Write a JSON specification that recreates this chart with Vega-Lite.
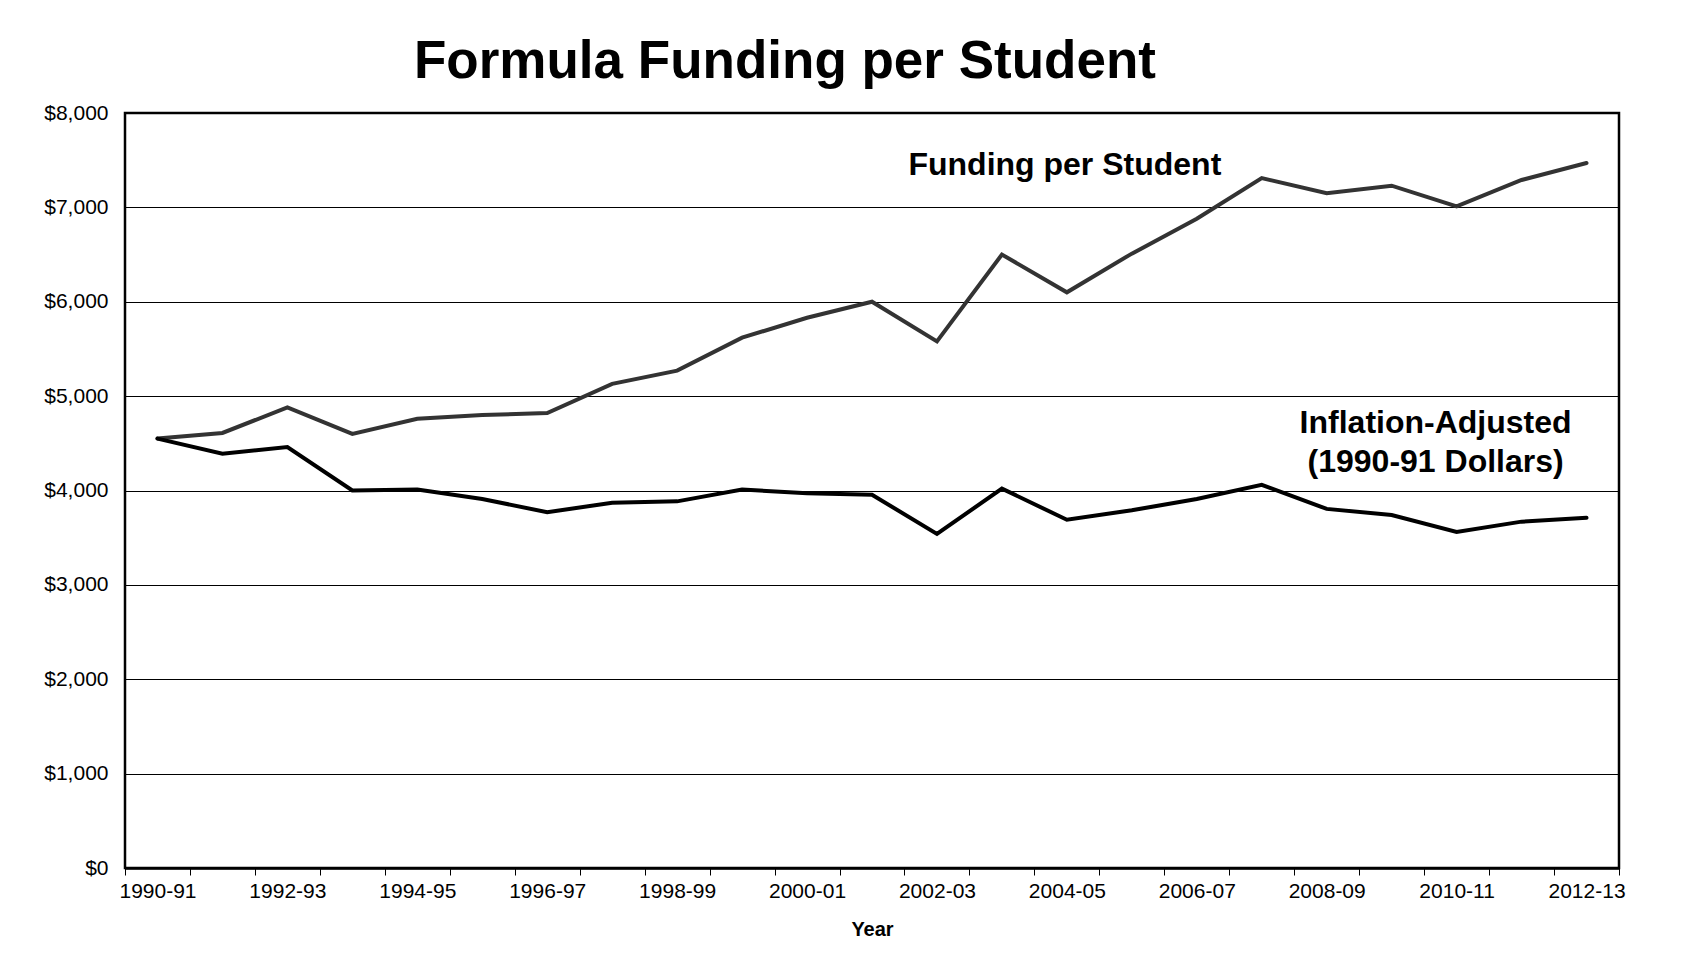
{
  "$schema": "https://vega.github.io/schema/vega-lite/v6.json",
  "autosize": {"type": "none"},
  "padding": {"left": 125, "top": 113, "right": 86, "bottom": 94},
  "width": 1494,
  "height": 755,
  "background": "white",
  "config": {
    "font": "Liberation Sans",
    "view": {"stroke": "#000000", "strokeWidth": 2.5}
  },
  "title": {
    "text": "Formula Funding per Student",
    "anchor": "start",
    "frame": "group",
    "dx": 289,
    "dy": 63,
    "offset": 34,
    "baseline": "alphabetic",
    "fontSize": 53,
    "fontWeight": "bold",
    "font": "Liberation Sans",
    "color": "#000000"
  },
  "datasets": {
    "series": [
      {"year": "1990-91", "series": "Funding per Student", "value": 4550},
      {"year": "1991-92", "series": "Funding per Student", "value": 4610},
      {"year": "1992-93", "series": "Funding per Student", "value": 4880},
      {"year": "1993-94", "series": "Funding per Student", "value": 4600},
      {"year": "1994-95", "series": "Funding per Student", "value": 4760},
      {"year": "1995-96", "series": "Funding per Student", "value": 4800},
      {"year": "1996-97", "series": "Funding per Student", "value": 4820},
      {"year": "1997-98", "series": "Funding per Student", "value": 5130},
      {"year": "1998-99", "series": "Funding per Student", "value": 5270},
      {"year": "1999-00", "series": "Funding per Student", "value": 5620},
      {"year": "2000-01", "series": "Funding per Student", "value": 5830},
      {"year": "2001-02", "series": "Funding per Student", "value": 6000},
      {"year": "2002-03", "series": "Funding per Student", "value": 5580},
      {"year": "2003-04", "series": "Funding per Student", "value": 6500},
      {"year": "2004-05", "series": "Funding per Student", "value": 6100},
      {"year": "2005-06", "series": "Funding per Student", "value": 6510},
      {"year": "2006-07", "series": "Funding per Student", "value": 6880},
      {"year": "2007-08", "series": "Funding per Student", "value": 7310},
      {"year": "2008-09", "series": "Funding per Student", "value": 7150},
      {"year": "2009-10", "series": "Funding per Student", "value": 7230},
      {"year": "2010-11", "series": "Funding per Student", "value": 7010},
      {"year": "2011-12", "series": "Funding per Student", "value": 7290},
      {"year": "2012-13", "series": "Funding per Student", "value": 7470},
      {"year": "1990-91", "series": "Inflation-Adjusted", "value": 4550},
      {"year": "1991-92", "series": "Inflation-Adjusted", "value": 4390},
      {"year": "1992-93", "series": "Inflation-Adjusted", "value": 4460},
      {"year": "1993-94", "series": "Inflation-Adjusted", "value": 4000},
      {"year": "1994-95", "series": "Inflation-Adjusted", "value": 4010},
      {"year": "1995-96", "series": "Inflation-Adjusted", "value": 3910},
      {"year": "1996-97", "series": "Inflation-Adjusted", "value": 3770},
      {"year": "1997-98", "series": "Inflation-Adjusted", "value": 3870},
      {"year": "1998-99", "series": "Inflation-Adjusted", "value": 3885},
      {"year": "1999-00", "series": "Inflation-Adjusted", "value": 4010},
      {"year": "2000-01", "series": "Inflation-Adjusted", "value": 3970},
      {"year": "2001-02", "series": "Inflation-Adjusted", "value": 3955},
      {"year": "2002-03", "series": "Inflation-Adjusted", "value": 3540},
      {"year": "2003-04", "series": "Inflation-Adjusted", "value": 4020},
      {"year": "2004-05", "series": "Inflation-Adjusted", "value": 3690},
      {"year": "2005-06", "series": "Inflation-Adjusted", "value": 3790},
      {"year": "2006-07", "series": "Inflation-Adjusted", "value": 3910},
      {"year": "2007-08", "series": "Inflation-Adjusted", "value": 4060},
      {"year": "2008-09", "series": "Inflation-Adjusted", "value": 3805},
      {"year": "2009-10", "series": "Inflation-Adjusted", "value": 3740},
      {"year": "2010-11", "series": "Inflation-Adjusted", "value": 3560},
      {"year": "2011-12", "series": "Inflation-Adjusted", "value": 3670},
      {"year": "2012-13", "series": "Inflation-Adjusted", "value": 3710}
    ],
    "notes1": [
      {"year": "2004-05", "value": 7450, "label": "Funding per Student"}
    ],
    "notes2": [
      {"year": "2010-11", "value": 4715, "label": "Inflation-Adjusted"},
      {"year": "2010-11", "value": 4302, "label": "(1990-91 Dollars)"}
    ]
  },
  "encoding": {
    "x": {
      "field": "year",
      "type": "ordinal",
      "sort": null,
      "bandPosition": 0.5,
      "scale": {"type": "band", "paddingInner": 0, "paddingOuter": 0},
      "axis": {
        "title": "Year",
        "titleFontSize": 20,
        "titleFontWeight": "bold",
        "titleColor": "#000000",
        "titlePadding": 18,
        "labelAngle": 0,
        "labelFontSize": 21,
        "labelColor": "#000000",
        "labelPadding": 5,
        "labelOverlap": false,
        "labelExpr": "toNumber(substring(datum.value,0,4)) % 2 == 0 ? datum.value : ''",
        "tickBand": "extent",
        "tickSize": 7,
        "tickColor": "#000000",
        "tickWidth": 1,
        "domainColor": "#000000",
        "domainWidth": 2.5,
        "grid": false
      }
    },
    "y": {
      "field": "value",
      "type": "quantitative",
      "scale": {"domain": [0, 8000], "nice": false, "zero": true},
      "axis": {
        "title": null,
        "values": [0, 1000, 2000, 3000, 4000, 5000, 6000, 7000, 8000],
        "format": "$,.0f",
        "labelFontSize": 21,
        "labelColor": "#000000",
        "labelPadding": 17,
        "ticks": false,
        "domain": false,
        "grid": true,
        "gridColor": "#000000",
        "gridWidth": 1,
        "gridOpacity": 1
      }
    }
  },
  "layer": [
    {
      "data": {"name": "series"},
      "mark": {"type": "line", "strokeWidth": 4, "strokeJoin": "miter", "strokeCap": "round"},
      "encoding": {
        "color": {
          "field": "series",
          "type": "nominal",
          "scale": {"domain": ["Funding per Student", "Inflation-Adjusted"], "range": ["#333333", "#000000"]},
          "legend": null
        }
      }
    },
    {
      "data": {"name": "notes1"},
      "mark": {"type": "text", "fontSize": 32, "fontWeight": "bold", "color": "#000000", "align": "center", "baseline": "middle", "dx": -2},
      "encoding": {"text": {"field": "label"}}
    },
    {
      "data": {"name": "notes2"},
      "mark": {"type": "text", "fontSize": 32, "fontWeight": "bold", "color": "#000000", "align": "center", "baseline": "middle", "dx": -21},
      "encoding": {"text": {"field": "label"}}
    }
  ]
}
